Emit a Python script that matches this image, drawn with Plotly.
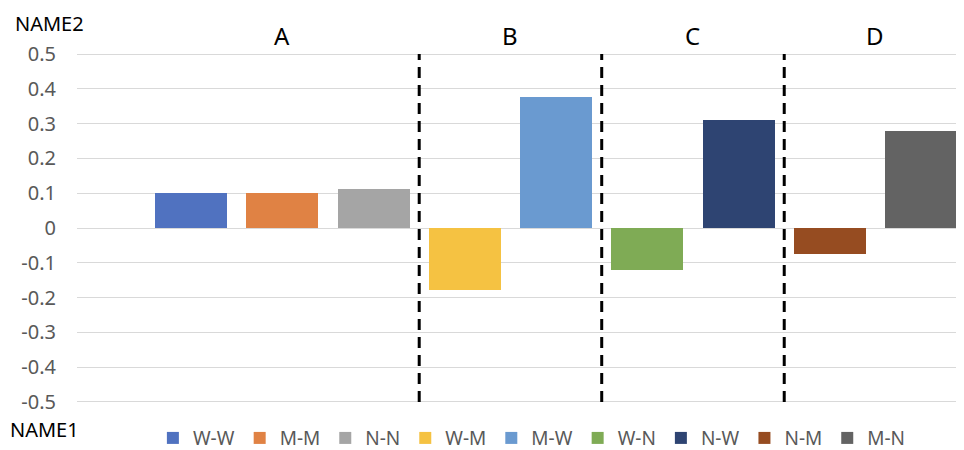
import plotly.graph_objects as go

# Data
series_names = ["W-W", "M-M", "N-N", "W-M", "M-W", "W-N", "N-W", "N-M", "M-N"]
values = [0.10, 0.10, 0.112, -0.177, 0.377, -0.122, 0.311, -0.076, 0.278]
colors = ["#5072C0", "#E08244", "#A5A5A5", "#F5C242", "#6A9AD0",
          "#7FAB55", "#2E4472", "#964C21", "#636363"]
group_labels = ["A", "B", "C", "D"]
group_members = [[0, 1, 2], [3, 4], [5, 6], [7, 8]]
y_ticks = [0.5, 0.4, 0.3, 0.2, 0.1, 0, -0.1, -0.2, -0.3, -0.4, -0.5]
y_tick_text = ["0.5", "0.4", "0.3", "0.2", "0.1", "0", "-0.1", "-0.2", "-0.3", "-0.4", "-0.5"]

FONT = "Noto Sans, Open Sans, sans-serif"

fig = go.Figure()
for i, (name, v, c) in enumerate(zip(series_names, values, colors)):
    fig.add_trace(go.Bar(x=[i], y=[v], name=name, marker=dict(color=c, line=dict(width=0)),
                         width=0.79, showlegend=True))

# dashed separators between groups
for g in range(len(group_members) - 1):
    xs = (group_members[g][-1] + group_members[g + 1][0]) / 2
    fig.add_shape(type="line", x0=xs, x1=xs, y0=-0.5, y1=0.5, xref="x", yref="y",
                  line=dict(color="black", width=3, dash="11px,7px"), layer="above")

# group labels
for lab, mem in zip(group_labels, group_members):
    cx = (mem[0] + mem[-1]) / 2
    if lab == "A":
        cx = mem[1]
    fig.add_annotation(x=cx, y=1.05, xref="x", yref="paper", text=lab, showarrow=False,
                       font=dict(size=24, color="black", family=FONT), yanchor="middle")

fig.add_annotation(x=-0.0725, y=1.128, xref="paper", yref="paper", text="NAME2",
                   showarrow=False, xanchor="left", yanchor="top",
                   font=dict(size=20, color="black", family=FONT))
fig.add_annotation(x=-0.0776, y=-0.077, xref="paper", yref="paper", text="NAME1",
                   showarrow=False, xanchor="left", yanchor="middle",
                   font=dict(size=20, color="black", family=FONT))

# the page body has an 8px default margin, so the figure is sized to fit inside the window
fig.update_layout(
    width=956, height=442,
    margin=dict(l=69, r=0, t=45, b=47),
    plot_bgcolor="white", paper_bgcolor="white",
    bargap=0,
    font=dict(family=FONT, size=20, color="#595959"),
    xaxis=dict(range=[-1.25, 8.47], showticklabels=False, showgrid=False,
               zeroline=False, showline=False, ticks="", automargin=False),
    yaxis=dict(range=[-0.503, 0.503], tickvals=y_ticks, ticktext=y_tick_text,
               showgrid=True, gridcolor="#D9D9D9", gridwidth=1,
               zeroline=True, zerolinecolor="#D9D9D9", zerolinewidth=1,
               showline=False, ticks="", ticklabelstandoff=20, automargin=False,
               tickfont=dict(size=20, color="#595959", family=FONT)),
    legend=dict(orientation="h", xref="container", yref="container",
                x=0.548, xanchor="center", y=0.027, yanchor="middle",
                font=dict(size=19, color="#595959", family=FONT),
                traceorder="normal", itemwidth=30,
                bgcolor="rgba(0,0,0,0)"),
)

fig.write_html("out.html")
